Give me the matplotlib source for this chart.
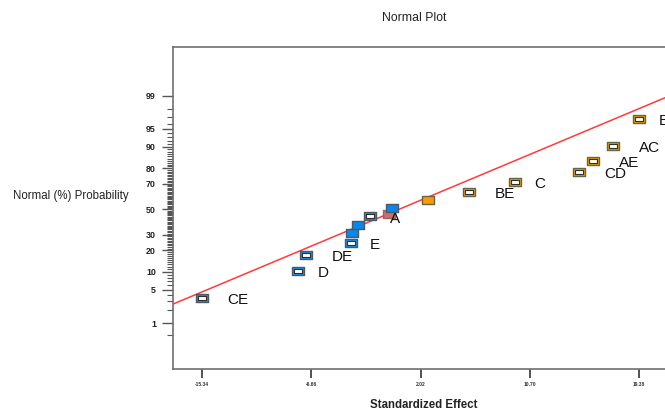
import numpy as np
import matplotlib
matplotlib.use("Agg")
import matplotlib.pyplot as plt
from matplotlib.path import Path
from statistics import NormalDist

# ---------------- data ----------------
effect_x = [-15.36, -7.69, -7.08, -3.53, -3.42, -2.97, -1.99, -0.46, -0.22,
            2.59, 5.90, 9.53, 14.61, 15.70, 17.32, 19.38]
prob_pct = [3.44, 10.35, 17.34, 24.35, 31.17, 37.41, 44.55, 46.2, 50.8,
            57.5, 64.1, 71.4, 77.5, 84.0, 90.3, 96.8]
labels = ['CE', 'D', 'DE', 'E', '', '', '', 'A', '', '', 'BE', 'C', 'CD',
          'AE', 'AC', 'B']
kinds = ['hollow', 'hollow', 'hollow', 'hollow', 'filled', 'filled', 'hollow',
         'filled', 'filled', 'filled', 'hollow', 'hollow', 'hollow', 'hollow',
         'hollow', 'hollow']
groups = ['neg', 'neg', 'neg', 'neg', 'neg', 'neg', 'neg', 'sel', 'neg',
          'pos', 'pos', 'pos', 'pos', 'pos', 'pos', 'pos']

x_ticks = [-15.34, -6.66, 2.02, 10.70, 19.38]
y_ticks = [1, 5, 10, 20, 30, 50, 70, 80, 90, 95, 99]
fit_mu = 0.31
fit_sigma = 9.26

# ---------------- scale ----------------
nd = NormalDist()
_ppf = np.vectorize(lambda p: nd.inv_cdf(min(max(p / 100.0, 1e-12), 1 - 1e-12)))
_cdf = np.vectorize(lambda z: nd.cdf(z) * 100.0)


def fwd(p):
    return _ppf(np.asarray(p, dtype=float))


def inv(z):
    return _cdf(np.asarray(z, dtype=float))


plt.rcParams['font.family'] = ['Liberation Sans', 'DejaVu Sans']

fig = plt.figure(figsize=(6.65, 4.12), dpi=100)
ax = fig.add_axes([173 / 665, 1 - 369 / 412, (668 - 173) / 665, (369 - 47) / 412])
ax.set_yscale('function', functions=(fwd, inv))

xlim = (-17.64, 21.68)
ax.set_xlim(*xlim)
ax.set_ylim(0.0545, 99.955)

# fit line
lx = np.array(xlim)
lp = inv((lx - fit_mu) / fit_sigma)
ax.plot(lx, lp, color='#ff3b3b', lw=1.1, zorder=2)

# markers
rect = Path([(-1, -0.65), (1, -0.65), (1, 0.65), (-1, 0.65), (-1, -0.65)],
            [Path.MOVETO, Path.LINETO, Path.LINETO, Path.LINETO, Path.CLOSEPOLY])
inner = Path([(-1, -0.6), (1, -0.6), (1, 0.6), (-1, 0.6), (-1, -0.6)],
             [Path.MOVETO, Path.LINETO, Path.LINETO, Path.LINETO, Path.CLOSEPOLY])

face = {
    ('neg', 'hollow'): '#1a8fe3', ('neg', 'filled'): '#0a86f0',
    ('pos', 'hollow'): '#e8a000', ('pos', 'filled'): '#ff9a00',
    ('sel', 'filled'): '#c87070', ('sel', 'hollow'): '#c87070',
}
edge = {'neg': '#4a5a66', 'pos': '#666644', 'sel': '#a06060'}

for xv, pv, k, g in zip(effect_x, prob_pct, kinds, groups):
    ax.plot([xv], [pv], marker=rect, markersize=8.9, linestyle='none',
            markerfacecolor=face[(g, k)], markeredgecolor=edge[g],
            markeredgewidth=1.0, zorder=3)
    if k == 'hollow':
        ax.plot([xv], [pv], marker=inner, markersize=5.2, linestyle='none',
                markerfacecolor='white', markeredgecolor='#303030',
                markeredgewidth=0.8, zorder=4)

# labels
for xv, pv, lab in zip(effect_x, prob_pct, labels):
    if not lab:
        continue
    if lab == 'A':
        dx, dy = 6, -5
    else:
        dx, dy = 13 + 11.5 * len(lab), -2
    ax.annotate(lab, (xv, pv), xytext=(dx, dy), textcoords='offset pixels',
                ha='center', va='center', fontsize=11, color='#111111',
                annotation_clip=False, zorder=5)

# axes styling
ax.spines['right'].set_visible(False)
for s in ['left', 'top', 'bottom']:
    ax.spines[s].set_color('#707070')
    ax.spines[s].set_linewidth(1.2)

ax.set_xticks(x_ticks)
ax.set_xticklabels(['%.2f' % v for v in x_ticks])
ax.tick_params(axis='x', which='major', length=6.5, width=1.2, color='#333333',
               direction='out', pad=2.5, labelsize=3.6, labelcolor='#333333')
for t in ax.get_xticklabels():
    t.set_fontweight('bold')

ax.set_yticks(y_ticks)
ax.set_yticklabels([str(v) for v in y_ticks])
minor = [0.5, 2, 3, 4] + [v for v in range(6, 99) if v not in y_ticks]
ax.set_yticks(minor, minor=True)
ax.yaxis.set_minor_formatter(plt.NullFormatter())
ax.tick_params(axis='y', which='major', length=8, width=1.0, color='#555555',
               direction='out', pad=4.3, labelsize=6.4, labelcolor='#222222')
ax.tick_params(axis='y', which='minor', length=4.3, width=0.8, color='#555555',
               direction='out')
for t in ax.get_yticklabels():
    t.set_fontweight('bold')
ax.tick_params(axis='x', which='minor', bottom=False)

fig.text(414 / 665, 1 - 18 / 412, 'Normal Plot', ha='center', va='center',
         fontsize=8.8, color='#222222')
fig.text(424 / 665, 1 - 405 / 412, 'Standardized Effect', ha='center',
         va='center', fontsize=8.3, fontweight='bold', color='#222222')
fig.text(71 / 665, 1 - 196 / 412, 'Normal (%) Probability', ha='center',
         va='center', fontsize=8.3, color='#222222')

fig.savefig('out.png', dpi=100)
